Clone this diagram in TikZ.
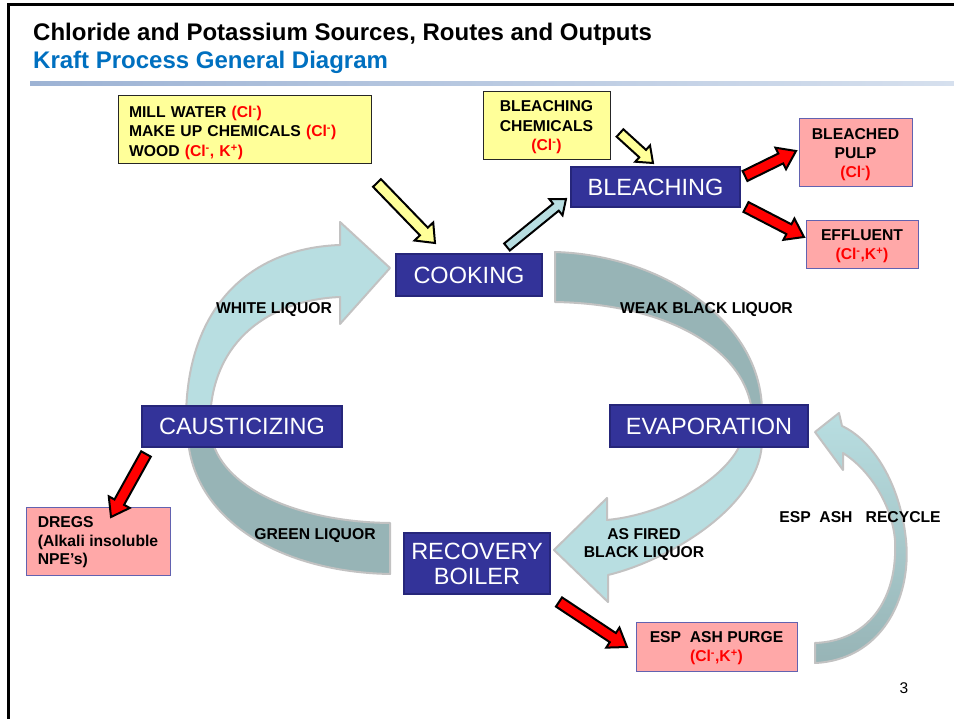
\documentclass[tikz,border=0pt]{standalone}
\usepackage{fontspec}
\setmainfont{Liberation Sans}
\usetikzlibrary{calc}

\definecolor{procblue}{HTML}{333399}
\definecolor{procedge}{HTML}{26267A}
\definecolor{srcyellow}{HTML}{FFFF99}
\definecolor{outpink}{HTML}{FFA8A8}
\definecolor{outedge}{HTML}{6262B0}
\definecolor{flowlight}{HTML}{B8DEE1}
\definecolor{flowdark}{HTML}{97B4B6}
\definecolor{flowedge}{HTML}{C2C2C2}
\definecolor{subblue}{HTML}{0070C0}
\definecolor{ionred}{HTML}{FF0000}
\definecolor{rulelight}{HTML}{D6E0EE}
\definecolor{ruledark}{HTML}{9DB3D4}

% ion notation in red
\newcommand{\ion}[1]{\textcolor{ionred}{#1}}
\newcommand{\Clm}{Cl\textsuperscript{-}}
\newcommand{\Kp}{K\textsuperscript{+}}

% straight block arrow: #1 style, #2 tail, #3 tip,
% #4 shaft half width, #5 head half width, #6 head length
\newcommand{\blockarrow}[6]{%
  \coordinate (ba-base) at ($(#3)!#6!(#2)$);
  \draw[#1] ($(#2)!#4!90:(#3)$) -- ($(ba-base)!#4!90:(#3)$)
    -- ($(ba-base)!#5!90:(#3)$) -- (#3)
    -- ($(ba-base)!#5!-90:(#3)$) -- ($(ba-base)!#4!-90:(#3)$)
    -- ($(#2)!#4!-90:(#3)$) -- cycle;
}

\begin{document}
\begin{tikzpicture}[x=1pt, y=-1pt,
  proc/.style={draw=procedge, line width=1.2pt, fill=procblue, text=white,
    font=\fontsize{23.5}{25}\selectfont, inner sep=0pt, align=center},
  src/.style={draw=black!85, line width=1pt, fill=srcyellow,
    font=\bfseries\fontsize{15.7}{19.5}\selectfont, inner sep=0pt},
  outbox/.style={draw=outedge, line width=1pt, fill=outpink,
    font=\bfseries\fontsize{15.7}{19}\selectfont, inner sep=0pt, align=center, text depth=0pt},
  flowlabel/.style={font=\bfseries\fontsize{15.7}{18}\selectfont, inner sep=0pt, align=center},
  bigflow/.style={draw=flowedge, line width=2pt, line join=round},
  redarrow/.style={fill=red, draw=black, line width=2pt, line join=miter},
  yellowarrow/.style={fill=srcyellow, draw=black, line width=2pt, line join=miter},
  bluearrow/.style={fill=flowlight, draw=black, line width=2pt, line join=miter}]

\useasboundingbox (0,0) rectangle (954,719);
\fill[white] (0,0) rectangle (954,719);

% slide frame
\draw[line width=3pt] (8.5,719) -- (8.5,5) -- (954,5);

% headings
\node[anchor=base west, inner sep=0pt, font=\bfseries\fontsize{24}{28}\selectfont]
  (title) at (33,40.5) {Chloride and Potassium Sources, Routes and Outputs};
\node[anchor=base west, inner sep=0pt, text=subblue, font=\bfseries\fontsize{24}{28}\selectfont]
  (subtitle) at (33,68.5) {Kraft Process General Diagram};
\shade[left color=ruledark, right color=rulelight] (30,81.5) rectangle (954,86);

% ---- large curved flows ----
% white liquor (causticizing -> cooking)
\filldraw[bigflow, fill=flowlight]
  (186,420) .. controls (186,305) and (252,248) .. (340,245)
  -- (340,222) -- (390,268) -- (340,324) -- (340,297)
  .. controls (270,300) and (212,340) .. (210,420) -- cycle;
% green liquor (recovery boiler side -> causticizing)
\filldraw[bigflow, fill=flowdark]
  (188,440) .. controls (195,520) and (280,572) .. (390,574)
  -- (390,523) .. controls (300,522) and (225,490) .. (212,440) -- cycle;
% weak black liquor (cooking -> evaporation)
\filldraw[bigflow, fill=flowdark]
  (555,252) .. controls (660,255) and (762,320) .. (762,412)
  -- (752,412) .. controls (746,352) and (672,304) .. (555,302) -- cycle;
% as fired black liquor (evaporation -> recovery boiler)
\filldraw[bigflow, fill=flowlight]
  (742,440) .. controls (730,475) and (670,514) .. (607,520)
  -- (607,498) -- (554,550) -- (608,602) -- (608,575)
  .. controls (670,560) and (762,505) .. (762,440) -- cycle;
% ESP ash recycle (purge -> evaporation)
\shadedraw[bigflow, top color=flowlight, bottom color=flowdark]
  (815,663) .. controls (880,660) and (912,600) .. (906,540)
  .. controls (900,482) and (872,440) .. (842,426)
  -- (839,413) -- (815,432) -- (843,470) -- (843,453)
  .. controls (870,470) and (892,505) .. (895,540)
  .. controls (898,600) and (868,641) .. (815,643) -- cycle;

% ---- process steps ----
\node[proc, minimum width=146pt, minimum height=42pt] (cooking) at (469,275) {COOKING};
\node[proc, minimum width=169pt, minimum height=40pt] (bleaching) at (655.5,187) {BLEACHING};
\node[proc, minimum width=200pt, minimum height=41pt] (caust) at (242,426.5) {CAUSTICIZING};
\node[proc, minimum width=198pt, minimum height=42pt] (evap) at (709,426) {EVAPORATION};
\node[proc, minimum width=146pt, minimum height=61pt] (recovery) at (477,563.5) {RECOVERY\\BOILER};

% ---- inputs ----
\node[src, minimum height=68pt, text width=231pt, inner xsep=11pt, align=left]
  (mill) at (244.5,130)
  {\rule{0pt}{17pt}MILL WATER \ion{(\Clm)}\\MAKE UP CHEMICALS \ion{(\Clm)}\\WOOD \ion{(\Clm, \Kp)}};
\node[src, minimum width=127pt, minimum height=68pt, align=center, text depth=0pt]
  (bchem) at (546.5,126) {BLEACHING\\CHEMICALS\\\ion{(\Clm)}};

% ---- outputs ----
\node[outbox, minimum width=113pt, minimum height=68pt] (pulp) at (855.5,153)
  {BLEACHED\\PULP\\\ion{(\Clm)}};
\node[outbox, minimum width=112pt, minimum height=48pt] (effluent) at (862,245)
  {EFFLUENT\\\ion{(\Clm,\Kp)}};
\node[outbox, minimum width=144pt, minimum height=68pt, align=left,
  font=\bfseries\fontsize{15.7}{18.5}\selectfont] (dregs) at (98,541)
  {DREGS\\(Alkali insoluble\\NPE’s)};
\node[outbox, minimum width=161pt, minimum height=49pt] (purge) at (716.5,646.5)
  {ESP~ ASH PURGE\\\ion{(\Clm,\Kp)}};

% ---- flow labels ----
\node[flowlabel] (wl) at (274,309.5) {WHITE LIQUOR};
\node[flowlabel] (wbl) at (706.5,309.5) {WEAK BLACK LIQUOR};
\node[flowlabel] (gl) at (315,535.5) {GREEN LIQUOR};
\node[flowlabel] (afbl) at (644,545) {AS FIRED\\BLACK LIQUOR};
\node[flowlabel] (ear) at (860,517.5) {ESP~ ASH~~ RECYCLE};

% ---- arrow end points ----
\coordinate (mw-a) at (377,183);  \coordinate (mw-b) at (435,243);
\coordinate (bc-a) at (620,133);  \coordinate (bc-b) at (653,163);
\coordinate (cb-a) at (507,247);  \coordinate (cb-b) at (566,199);
\coordinate (bp-a) at (745,176);  \coordinate (bp-b) at (796,151);
\coordinate (ef-a) at (746,207);  \coordinate (ef-b) at (804,237);
\coordinate (dr-a) at (146,454);  \coordinate (dr-b) at (111,517);
\coordinate (ep-a) at (559,602);  \coordinate (ep-b) at (627,647);

\blockarrow{yellowarrow}{mw-a}{mw-b}{5.5pt}{13pt}{16pt}
\blockarrow{yellowarrow}{bc-a}{bc-b}{5pt}{11pt}{14pt}
\blockarrow{bluearrow}{cb-a}{cb-b}{4.5pt}{10.5pt}{13pt}
\blockarrow{redarrow}{bp-a}{bp-b}{5.5pt}{12pt}{17pt}
\blockarrow{redarrow}{ef-a}{ef-b}{5.5pt}{12pt}{17pt}
\blockarrow{redarrow}{dr-a}{dr-b}{5.5pt}{12pt}{17pt}
\blockarrow{redarrow}{ep-a}{ep-b}{5.5pt}{12pt}{17pt}

% page number
\node[font=\fontsize{15.5}{18}\selectfont, inner sep=0pt] (page) at (904,688.5) {3};

\end{tikzpicture}
\end{document}
